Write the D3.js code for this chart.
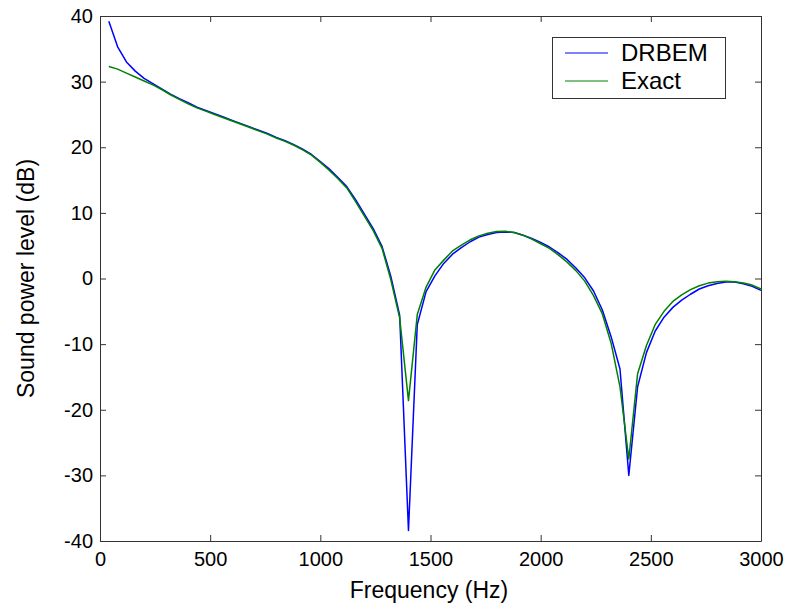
<!DOCTYPE html>
<html><head><meta charset="utf-8">
<script src="https://cdn.jsdelivr.net/npm/d3@7"></script>
<style>body{margin:0;background:#fff}svg{display:block}text{font-family:"Liberation Sans",Arial,sans-serif;fill:#000}</style>
</head><body>
<script>
const frequencies = d3.range(1, 76).map(i => i * 40);
const drbem = [39.2,35.3,33.0,31.6,30.5,29.7,28.9,28.1,27.4,26.8,
  26.1,25.6,25.1,24.6,24.1,23.6,23.1,22.6,22.1,21.5,
  21.0,20.4,19.7,18.9,17.8,16.7,15.4,14.0,12.0,9.8,
  7.6,4.9,0.3,-5.6,-38.4,-7.0,-2.0,0.4,2.3,3.7,
  4.7,5.6,6.3,6.7,7.0,7.1,7.0,6.6,6.1,5.5,
  4.8,3.9,2.9,1.6,0.1,-1.9,-4.8,-8.9,-13.8,-30.0,
  -16.5,-11.3,-8.0,-5.9,-4.4,-3.3,-2.4,-1.6,-1.1,-0.75,
  -0.55,-0.55,-0.8,-1.2,-1.8];
const exact = [32.3,31.9,31.3,30.7,30.1,29.5,28.8,28.0,27.3,26.6,
  26.0,25.5,25.0,24.5,24.0,23.5,23.0,22.5,22.0,21.4,
  20.9,20.3,19.6,18.8,17.7,16.5,15.2,13.8,11.7,9.5,
  7.3,4.6,-0.2,-6.0,-18.6,-5.5,-1.3,1.3,2.8,4.2,
  5.1,5.9,6.5,6.9,7.15,7.2,7.0,6.6,6.0,5.3,
  4.6,3.6,2.5,1.2,-0.4,-2.6,-5.4,-9.9,-16.5,-27.5,
  -14.5,-10.2,-7.0,-5.0,-3.5,-2.5,-1.7,-1.1,-0.7,-0.5,
  -0.4,-0.5,-0.7,-1.0,-1.6];
const xTicks = [0,500,1000,1500,2000,2500,3000];
const yTicks = [-40,-30,-20,-10,0,10,20,30,40];
const seriesNames = ["DRBEM","Exact"];
const seriesColors = ["#0000ff","#008000"];

const W = 786, H = 604;
const L = 100, R = 761, T = 16, B = 541;
const svg = d3.select("body").append("svg").attr("width", W).attr("height", H);
const x = d3.scaleLinear().domain([0, 3000]).range([L, R]);
const y = d3.scaleLinear().domain([-40, 40]).range([B, T]);

const frameColor = "#333";
const tickLen = 6;
const fmt = d => String(d);
const gB = svg.append("g").attr("transform", `translate(0,${B})`)
  .call(d3.axisBottom(x).tickValues(xTicks).tickSizeInner(-tickLen).tickSizeOuter(0).tickPadding(11).tickFormat(fmt));
const gT = svg.append("g").attr("transform", `translate(0,${T})`)
  .call(d3.axisTop(x).tickValues(xTicks).tickSizeInner(-tickLen).tickSizeOuter(0).tickFormat(""));
const gL = svg.append("g").attr("transform", `translate(${L},0)`)
  .call(d3.axisLeft(y).tickValues(yTicks).tickSizeInner(-tickLen).tickSizeOuter(0).tickPadding(7).tickFormat(fmt));
const gR = svg.append("g").attr("transform", `translate(${R},0)`)
  .call(d3.axisRight(y).tickValues(yTicks).tickSizeInner(-tickLen).tickSizeOuter(0).tickFormat(""));
[gB,gT,gL,gR].forEach(g => {
  g.select(".domain").attr("stroke", frameColor);
  g.selectAll(".tick line").attr("stroke", frameColor);
  g.selectAll("text").style("font-size", "20px").attr("fill", "#000");
});

const line = d3.line().x((d, i) => x(frequencies[i])).y(d => y(d));
[drbem, exact].forEach((s, k) => {
  svg.append("path").datum(s).attr("d", line).attr("fill", "none")
    .attr("stroke", seriesColors[k]).attr("stroke-width", 1.5).attr("stroke-linejoin", "round");
});

svg.append("text").attr("x", 429).attr("y", 598).attr("text-anchor", "middle")
  .style("font-size", "23px").text("Frequency (Hz)");
svg.append("text").attr("transform", `translate(34,${(T + B) / 2}) rotate(-90)`).attr("text-anchor", "middle")
  .style("font-size", "23px").text("Sound power level (dB)");

const lg = svg.append("g");
lg.append("rect").attr("x", 552.5).attr("y", 37.5).attr("width", 173).attr("height", 61)
  .attr("fill", "#fff").attr("stroke", frameColor);
seriesNames.forEach((n, k) => {
  const yy = 53 + k * 28;
  lg.append("line").attr("x1", 565).attr("x2", 608).attr("y1", yy).attr("y2", yy)
    .attr("stroke", seriesColors[k]).attr("stroke-width", 1.2);
  lg.append("text").attr("x", 621).attr("y", yy + 8).style("font-size", "24px").text(n);
});
</script>
</body></html>
